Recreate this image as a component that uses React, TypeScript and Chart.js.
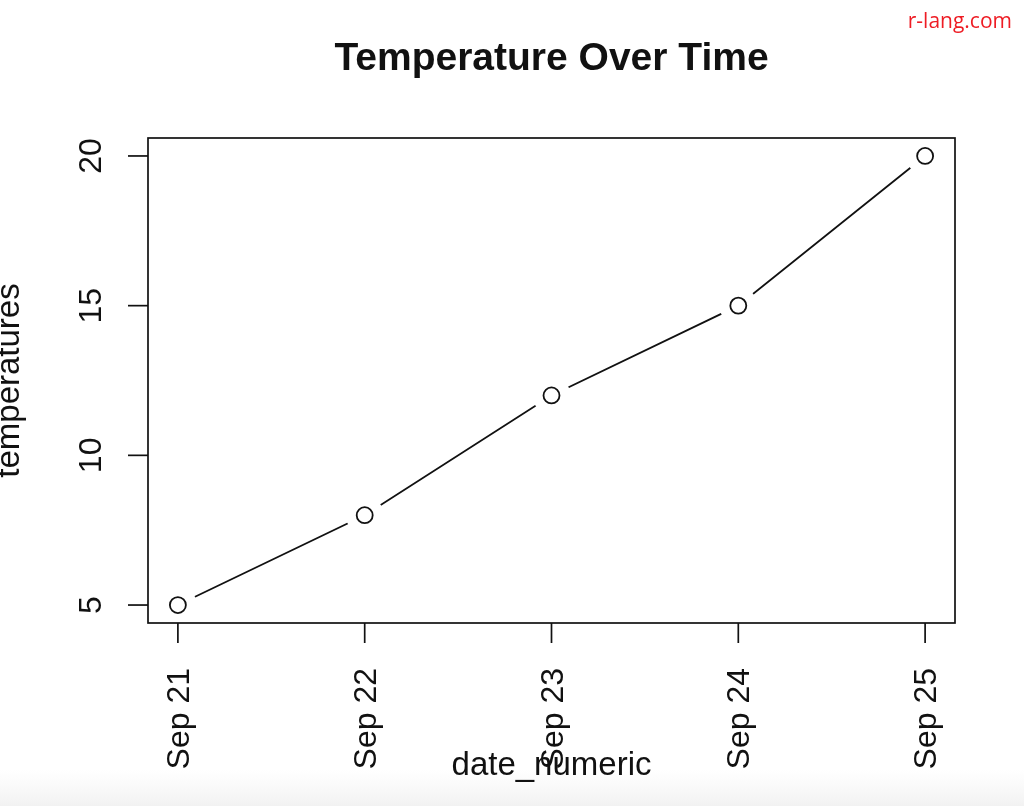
import React, { useEffect, useRef } from "react";
import { Chart, registerables } from "chart.js";

Chart.register(...registerables);

const dateLabels = ["Sep 21", "Sep 22", "Sep 23", "Sep 24", "Sep 25"];
const dateNumeric = [1, 2, 3, 4, 5];
const temperatures = [5, 8, 12, 15, 20];
const yTickValues = [5, 10, 15, 20];
const titleText = "Temperature Over Time";
const xTitle = "date_numeric";
const yTitle = "temperatures";
const watermark = "r-lang.com";

const FONT = '"Liberation Sans", Arial, Helvetica, sans-serif';
const INK = "#111111";

export default function App() {
  const ref = useRef<HTMLCanvasElement | null>(null);

  useEffect(() => {
    const canvas = ref.current;
    if (!canvas) return;
    const points = dateNumeric.map((x, i) => ({ x, y: temperatures[i] }));

    const decor = {
      id: "rdecor",
      beforeDraw(chart: any) {
        const ctx = chart.ctx;
        const w = chart.width;
        const h = chart.height;
        ctx.save();
        ctx.fillStyle = "#ffffff";
        ctx.fillRect(0, 0, w, h);
        const g = ctx.createLinearGradient(0, 770, 0, h);
        g.addColorStop(0, "rgba(244,244,244,0)");
        g.addColorStop(1, "rgba(242,242,242,1)");
        ctx.fillStyle = g;
        ctx.fillRect(0, 770, w, h - 770);
        ctx.restore();
      },
      afterDatasetsDraw(chart: any) {
        const ctx = chart.ctx;
        const a = chart.chartArea;
        const xs = chart.scales.x;
        const ys = chart.scales.y;
        ctx.save();
        ctx.strokeStyle = INK;
        ctx.lineWidth = 1.7;
        ctx.strokeRect(a.left, a.top, a.right - a.left, a.bottom - a.top);
        ctx.fillStyle = INK;
        // y ticks
        ctx.font = `32px ${FONT}`;
        yTickValues.forEach((v) => {
          const py = ys.getPixelForValue(v);
          ctx.beginPath();
          ctx.moveTo(a.left, py);
          ctx.lineTo(a.left - 20, py);
          ctx.stroke();
          ctx.save();
          ctx.translate(a.left - 47, py);
          ctx.rotate(-Math.PI / 2);
          ctx.textAlign = "center";
          ctx.textBaseline = "alphabetic";
          ctx.fillText(String(v), 0, 0);
          ctx.restore();
        });
        // x ticks
        dateNumeric.forEach((v, i) => {
          const px = xs.getPixelForValue(v);
          ctx.beginPath();
          ctx.moveTo(px, a.bottom);
          ctx.lineTo(px, a.bottom + 20);
          ctx.stroke();
          ctx.save();
          ctx.translate(px + 11, a.bottom + 45);
          ctx.rotate(-Math.PI / 2);
          ctx.textAlign = "right";
          ctx.textBaseline = "alphabetic";
          ctx.fillText(dateLabels[i], 0, 0);
          ctx.restore();
        });
        // axis titles
        const cx = (a.left + a.right) / 2;
        const cy = (a.top + a.bottom) / 2;
        ctx.font = `33px ${FONT}`;
        ctx.textAlign = "center";
        ctx.textBaseline = "alphabetic";
        ctx.fillText(xTitle, cx, 775);
        ctx.save();
        ctx.translate(19, cy);
        ctx.rotate(-Math.PI / 2);
        ctx.fillText(yTitle, 0, 0);
        ctx.restore();
        // main title
        ctx.font = `bold 39px ${FONT}`;
        ctx.fillText(titleText, cx, 70);
        // watermark
        ctx.font = `21px "Open Sans", ${FONT}`;
        ctx.fillStyle = "#ee1c24";
        ctx.textAlign = "right";
        ctx.fillText(watermark, 1012, 28);
        ctx.restore();
      },
    };

    const chart = new Chart(canvas, {
      type: "line",
      data: {
        datasets: [
          {
            data: points,
            showLine: false,
            pointRadius: 8,
            pointBackgroundColor: "#ffffff",
            pointBorderColor: INK,
            pointBorderWidth: 1.8,
            order: 0,
          },
          {
            data: points,
            showLine: false,
            pointRadius: 19,
            pointBackgroundColor: "#ffffff",
            pointBorderColor: "#ffffff",
            pointBorderWidth: 0,
            order: 1,
          },
          {
            data: points,
            borderColor: INK,
            borderWidth: 1.8,
            pointRadius: 0,
            tension: 0,
            fill: false,
            order: 2,
          },
        ],
      },
      options: {
        responsive: false,
        animation: false,
        events: [],
        layout: { padding: { left: 148, right: 69, top: 138, bottom: 183 } },
        plugins: {
          legend: { display: false },
          tooltip: { enabled: false },
          title: { display: false },
        },
        scales: {
          x: { type: "linear", min: 0.84, max: 5.16, display: false },
          y: { type: "linear", min: 4.4, max: 20.6, display: false },
        },
      },
      plugins: [decor],
    });
    return () => chart.destroy();
  }, []);

  return (
    <div style={{ position: "fixed", left: 0, top: 0, width: 1024, height: 806, background: "#fff" }}>
      <canvas ref={ref} width={1024} height={806} style={{ width: 1024, height: 806, display: "block" }} />
    </div>
  );
}
